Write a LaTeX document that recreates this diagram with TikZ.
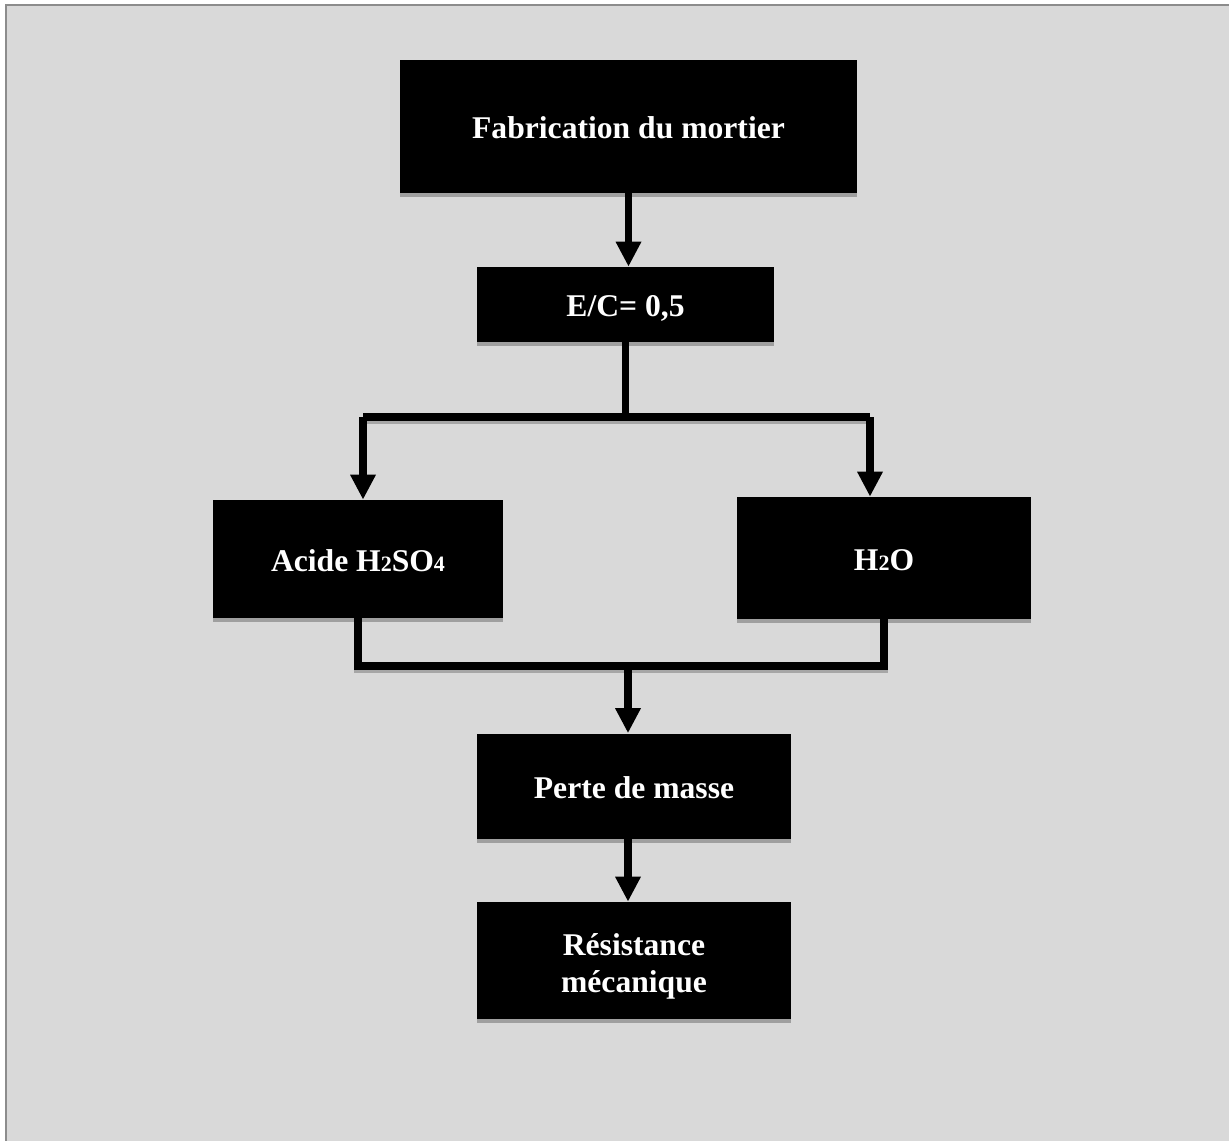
\documentclass[tikz,border=0pt]{standalone}
\usepackage{fontspec}
\setmainfont{Liberation Serif}
\usepackage{xcolor}
\usepackage{tikz}
\usetikzlibrary{positioning,arrows.meta,shadows}

\newcommand{\chind}[1]{{\fontsize{12.5}{12.5}\selectfont #1}}

\begin{document}
\begin{tikzpicture}[x=0.02cm, y=-0.02cm,
  boite/.style={rectangle, fill=black, text=white, inner sep=0pt, align=center,
    font=\bfseries\fontsize{18}{21}\selectfont,
    drop shadow={shadow xshift=0cm, shadow yshift=-0.08cm, fill=gray!75, opacity=1}},
  ligne/.style={boite, text height=16pt, text depth=2pt},
  trait/.style={line width=0.155cm, draw=black,
    preaction={draw=gray!70, line width=0.155cm, transform canvas={yshift=-0.07cm}}},
  fleche/.style={line width=0.155cm, draw=black, -{Triangle[width=0.48cm, length=0.5cm]}}
]
  \clip (0,0) rectangle (1229,1140);
  \fill[white] (0,0) rectangle (1229,1140);
  \filldraw[fill=black!15, draw=black!45, line width=0.04cm] (6,5) rectangle (1260,1170);

  \node[ligne, minimum width=9.14cm, minimum height=2.66cm] (fab)    at (628.5,126.5) {Fabrication du mortier};
  \node[ligne, minimum width=5.94cm, minimum height=1.5cm]  (ec)     at (625.5,304.5) {E/C= 0,5};
  \node[ligne, minimum width=5.8cm,  minimum height=2.36cm] (acide)  at (358,559)     {Acide H\chind{2}SO\chind{4}};
  \node[ligne, minimum width=5.88cm, minimum height=2.44cm] (eau)    at (884,558)     {H\chind{2}O};
  \node[ligne, minimum width=6.28cm, minimum height=2.1cm]  (perte)  at (634,786)     {Perte de masse};
  \node[boite, minimum width=6.28cm, minimum height=2.34cm] (resist) at (634,960.5)
    {\raisebox{-3.4pt}[\height][\depth]{\begin{tabular}{@{}c@{}}Résistance\\mécanique\end{tabular}}};

  \coordinate (bg) at (363,417);
  \coordinate (bd) at (870,417);
  \coordinate (jn) at (628,666);

  \draw[fleche] (fab.south) -- (fab.south |- ec.north);
  \draw[trait] (ec.south) -- (ec.south |- bg);
  \draw[trait] (bg) -- (bd);
  \draw[fleche] (bg) -- (bg |- acide.north);
  \draw[fleche] (bd) -- (bd |- eau.north);
  \draw[trait] (acide.south) |- (jn) -| (eau.south);
  \draw[fleche] (jn) -- (jn |- perte.north);
  \draw[fleche] (perte.south -| jn) -- (jn |- resist.north);
\end{tikzpicture}
\end{document}
